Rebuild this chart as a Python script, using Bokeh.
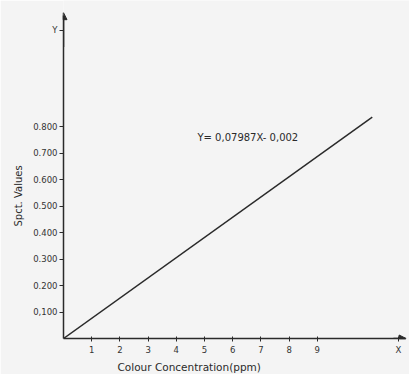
from bokeh.plotting import figure
from bokeh.models import Range1d, FixedTicker, Label, Arrow, NormalHead, Title
from bokeh.embed import file_html
from bokeh.resources import INLINE

# data
conc = [0, 10.95]            # colour concentration (ppm)
spect = [0, 0.836]           # spectrophotometric values
x_ticks = [1, 2, 3, 4, 5, 6, 7, 8, 9, 11.88]
x_tick_labels = ["1", "2", "3", "4", "5", "6", "7", "8", "9", "X"]
y_ticks = [0.1, 0.2, 0.3, 0.4, 0.5, 0.6, 0.7, 0.8, 1.164]
y_tick_labels = ["0,100", "0.200", "0.300", "0.400", "0.500", "0.600", "0.700", "0.800", "Y"]
equation = "Y= 0,07987X- 0,002"
x_title = "Colour  Concentration(ppm)"
y_title = "Spct.  Values"

FONT = "DejaVu Sans"
INK = "#2a2a2a"
BG = "#f4f4f4"

p = figure(width=409, height=374, output_backend="svg", toolbar_location=None,
           x_range=Range1d(0, 12.27), y_range=Range1d(0, 1.276),
           min_border_left=63, min_border_right=0, min_border_top=0, min_border_bottom=32)
p.background_fill_color = BG
p.border_fill_color = BG
p.outline_line_color = None
p.grid.visible = False

p.line(conc, spect, line_color=INK, line_width=1.5)

p.xaxis.ticker = FixedTicker(ticks=x_ticks)
p.xaxis.major_label_overrides = {t: l for t, l in zip(x_ticks, x_tick_labels)}
p.yaxis.ticker = FixedTicker(ticks=y_ticks)
p.yaxis.major_label_overrides = {t: l for t, l in zip(y_ticks, y_tick_labels)}
for ax in (p.xaxis, p.yaxis):
    ax.axis_line_color = INK
    ax.axis_line_width = 1.5
    ax.major_tick_line_color = INK
    ax.major_tick_line_width = 1
    ax.minor_tick_line_color = None
    ax.major_label_text_font = FONT
    ax.major_label_text_font_size = "8.5px"
    ax.major_label_text_color = "#333333"
p.xaxis.major_tick_in = 2
p.xaxis.major_tick_out = 3
p.xaxis.major_label_standoff = 3
p.xaxis.bounds = (0, 12.13)
p.yaxis.major_tick_in = 0
p.yaxis.major_tick_out = 4
p.yaxis.major_label_standoff = 2
p.yaxis.bounds = (0, 1.22)

# arrow heads on axes
p.add_layout(Arrow(x_start=0, y_start=1.1, x_end=0, y_end=1.23, line_color=INK, line_width=1.5,
                   end=NormalHead(size=7, fill_color=INK, line_color=INK)))
p.add_layout(Arrow(x_start=11.7, y_start=0, x_end=12.15, y_end=0, line_color=INK, line_width=1.5,
                   end=NormalHead(size=7, fill_color=INK, line_color=INK)))

p.add_layout(Label(x=4.75, y=0.757, text=equation, text_font=FONT, text_font_size="10px",
                   text_color=INK, text_align="left", text_baseline="middle"))

p.add_layout(Title(text=x_title, align="left", offset=54, standoff=3, text_font=FONT,
                   text_font_size="10.5px", text_font_style="normal", text_color=INK), "below")
p.add_layout(Title(text=y_title, align="left", offset=112, standoff=13, text_font=FONT,
                   text_font_size="10px", text_font_style="normal", text_color=INK), "left")

open("out.html", "w").write(file_html(p, INLINE))
